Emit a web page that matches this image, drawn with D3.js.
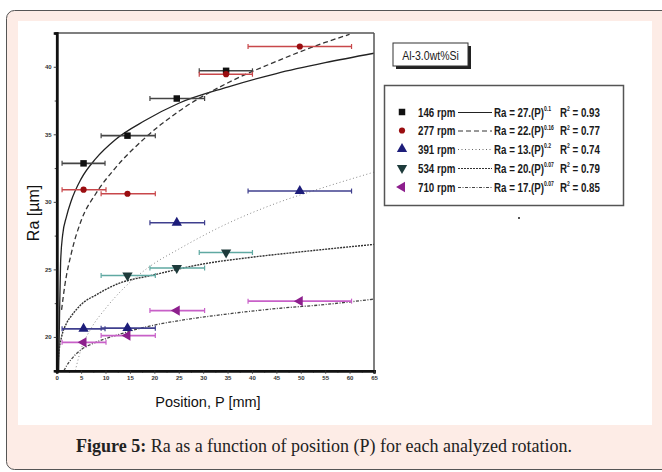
<!DOCTYPE html>
<html>
<head>
<meta charset="utf-8">
<script src="https://cdn.jsdelivr.net/npm/d3@7"></script>
<style>
  body { margin: 0; background: #fff; }
  svg { display: block; }
</style>
</head>
<body>
<script>
// ---- data ----
var seriesNames = ["146 rpm", "277 rpm", "391 rpm", "534 rpm", "710 rpm"];

// measured points: position P, Ra, and left/right ends of the error bar
var p146  = [5.5, 14.5, 24.6, 34.7];
var ra146 = [32.85, 34.9, 37.65, 39.7];
var lo146 = [1.1, 9.1, 19.1, 29.2];
var hi146 = [9.9, 20.2, 30.3, 40.1];

var p277  = [5.5, 14.5, 34.7, 49.8];
var ra277 = [30.9, 30.6, 39.45, 41.5];
var lo277 = [1.1, 9.1, 29.2, 39.2];
var hi277 = [10.1, 20.2, 40.1, 60.4];

var p391  = [5.5, 14.5, 24.6, 49.8];
var ra391 = [20.6, 20.65, 28.45, 30.8];
var lo391 = [1.1, 9.1, 19.1, 39.2];
var hi391 = [9.9, 20.2, 30.3, 60.4];

var p534  = [14.5, 24.6, 34.7];
var ra534 = [24.55, 25.1, 26.25];
var lo534 = [9.1, 19.1, 29.2];
var hi534 = [20.2, 30.3, 40.1];

var p710  = [5.5, 14.5, 24.6, 49.8];
var ra710 = [19.6, 20.1, 21.95, 22.65];
var lo710 = [1.1, 9.1, 19.1, 39.2];
var hi710 = [10.1, 20.2, 30.3, 60.4];

// fitted curves as traced on the picture, [P, Ra]
var fit146 = [[0.4,17.5],[0.6,22],[0.8,25.5],[1.2,27.5],[2,28.9],[3,30.1],[5,31.7],[8,33.2],[12,34.6],[18,36],[25,37.3],[35,38.5],[45,39.5],[55,40.3],[65,41]];
var fit277 = [[1,22],[1.7,23.9],[3,26.2],[5,28.6],[8,30.6],[12,32.5],[18,34.7],[25,36.7],[35,38.8],[45,40.4],[55,41.8],[60,42.4]];
var fit391 = [[3.8,17.5],[5,19.1],[7,20.6],[10,22.1],[14,23.7],[19,25.2],[25,26.5],[35,28.4],[45,29.9],[55,31.1],[65,32.2]];
var fit534 = [[0.2,17.6],[0.5,19],[1,20],[2,21],[3.1,21.6],[5,22.4],[8,23.1],[12.3,23.9],[20,24.6],[30,25.4],[40,25.9],[50,26.3],[65,26.85]];
var fit710 = [[1.5,17.5],[2,17.85],[3,18.35],[5,19.05],[8,19.6],[12,20.1],[19,20.8],[25,21.2],[35,21.7],[45,22.1],[55,22.4],[65,22.8]];

var equations = ["Ra = 27.(P)", "Ra = 22.(P)", "Ra = 13.(P)", "Ra = 20.(P)", "Ra = 17.(P)"];
var exponents = ["0.1", "0.16", "0.2", "0.07", "0.07"];
var r2Values  = ["0.93", "0.77", "0.74", "0.79", "0.85"];

var xTicks = d3.range(0, 66, 5);
var yTicks = [20, 25, 30, 35, 40];

// ---- styles ----
var markerColor = ["#111", "#9a0d10", "#1d1d7a", "#1e3b3b", "#8d1f8d"];
var barColor    = ["#444", "#c8474a", "#3f3f8e", "#5fa9a2", "#c860c8"];
var symbols = [d3.symbolSquare, d3.symbolCircle, d3.symbolTriangle, d3.symbolTriangle, d3.symbolTriangle];
var symSize = [42, 30, 46, 46, 46];
var symRot  = [0, 0, 0, 180, -90];
var lineDash   = [null, "5,3", "1,2.5", "2,1", "3,1.5,1,1.5"];
var lineColor  = ["#222", "#333", "#888", "#333", "#444"];
var lineWidth  = [1.3, 1.3, 1, 1.4, 1.3];

var series = [
  {p: p146, ra: ra146, lo: lo146, hi: hi146, fit: fit146},
  {p: p277, ra: ra277, lo: lo277, hi: hi277, fit: fit277},
  {p: p391, ra: ra391, lo: lo391, hi: hi391, fit: fit391},
  {p: p534, ra: ra534, lo: lo534, hi: hi534, fit: fit534},
  {p: p710, ra: ra710, lo: lo710, hi: hi710, fit: fit710}
];

var W = 662, H = 472;
var svg = d3.select("body").append("svg")
    .attr("width", W)
    .attr("height", H);

// card + white panel
svg.append("rect")
    .attr("x", 6.5).attr("y", 10.5)
    .attr("width", 700).attr("height", 459)
    .attr("rx", 8)
    .attr("fill", "#fdece6")
    .attr("stroke", "#555")
    .attr("stroke-width", 1);
svg.append("rect")
    .attr("x", 18).attr("y", 21)
    .attr("width", 634).attr("height", 404)
    .attr("fill", "#fff");

// scales
var x = d3.scaleLinear().domain([0, 65]).range([56.7, 374]);
var y = d3.scaleLinear().domain([17.5, 42.5]).range([370.7, 33]);

var plot = svg.append("g");

svg.append("clipPath").attr("id", "clip")
  .append("rect")
    .attr("x", x(0)).attr("y", y(42.5))
    .attr("width", x(65) - x(0)).attr("height", y(17.5) - y(42.5));

// fitted curves
var line = d3.line()
    .x(function(d) { return x(d[0]); })
    .y(function(d) { return y(d[1]); })
    .curve(d3.curveMonotoneX);

series.forEach(function(s, i) {
  plot.append("path")
      .datum(s.fit)
      .attr("clip-path", "url(#clip)")
      .attr("fill", "none")
      .attr("stroke", lineColor[i])
      .attr("stroke-width", lineWidth[i])
      .attr("stroke-dasharray", lineDash[i])
      .attr("d", line);
});

// error bars and markers
series.forEach(function(s, i) {
  var g = plot.append("g");
  s.p.forEach(function(pv, k) {
    var yy = y(s.ra[k]);
    g.append("line")
        .attr("x1", x(s.lo[k])).attr("x2", x(s.hi[k]))
        .attr("y1", yy).attr("y2", yy)
        .attr("stroke", barColor[i]).attr("stroke-width", 1.6);
    [s.lo[k], s.hi[k]].forEach(function(e) {
      g.append("line")
          .attr("x1", x(e)).attr("x2", x(e))
          .attr("y1", yy - 2.5).attr("y2", yy + 2.5)
          .attr("stroke", barColor[i]).attr("stroke-width", 1.2);
    });
    g.append("path")
        .attr("d", d3.symbol().type(symbols[i]).size(symSize[i])())
        .attr("transform", "translate(" + x(pv) + "," + yy + ") rotate(" + symRot[i] + ")")
        .attr("fill", markerColor[i]);
  });
});

// frame
plot.append("line")
    .attr("x1", x(0)).attr("x2", x(65)).attr("y1", y(42.5)).attr("y2", y(42.5))
    .attr("stroke", "#555").attr("stroke-width", 1.5);
plot.append("line")
    .attr("x1", x(65)).attr("x2", x(65)).attr("y1", y(42.5)).attr("y2", y(17.5))
    .attr("stroke", "#555").attr("stroke-width", 1.5);

// axes
var xMinor = svg.append("g")
    .attr("transform", "translate(0," + y(17.5) + ")")
    .call(d3.axisBottom(x).tickValues(d3.range(2.5, 65, 5)).tickSize(2).tickFormat(""));
var xAxis = svg.append("g")
    .attr("transform", "translate(0," + y(17.5) + ")")
    .call(d3.axisBottom(x).tickValues(xTicks).tickSize(3).tickPadding(2));
var yMinor = svg.append("g")
    .attr("transform", "translate(" + x(0) + ",0)")
    .call(d3.axisLeft(y).tickValues([22.5, 27.5, 32.5, 37.5]).tickSize(2).tickFormat(""));
var yAxis = svg.append("g")
    .attr("transform", "translate(" + x(0) + ",0)")
    .call(d3.axisLeft(y).tickValues(yTicks).tickSize(3).tickPadding(2));

[xMinor, xAxis, yMinor, yAxis].forEach(function(a) {
  a.select(".domain").attr("stroke", "#111").attr("stroke-width", 2.5);
  a.selectAll(".tick line").attr("stroke", "#333").attr("stroke-width", 0.9);
  a.selectAll("text")
      .attr("font-family", "Liberation Sans, Arial, sans-serif")
      .attr("font-size", 6)
      .attr("font-weight", "bold")
      .attr("fill", "#333");
});

// axis titles
svg.append("text")
    .attr("transform", "translate(39,213) rotate(-90)")
    .attr("text-anchor", "middle")
    .attr("font-family", "Liberation Sans, Arial, sans-serif")
    .attr("font-size", 16)
    .attr("fill", "#111")
    .text("Ra  [\u00b5m]");
svg.append("text")
    .attr("x", 208).attr("y", 407)
    .attr("text-anchor", "middle")
    .attr("font-family", "Liberation Sans, Arial, sans-serif")
    .attr("font-size", 14.5)
    .attr("fill", "#111")
    .text("Position, P  [mm]");

// condensed text helper (the figure uses a narrow face)
var legFont = "Liberation Sans, Arial, sans-serif";
function narrowText(parent, tx, ty, size) {
  return parent.append("text")
      .attr("transform", "translate(" + tx + "," + ty + ") scale(0.78,1)")
      .attr("font-family", legFont)
      .attr("font-size", size)
      .attr("font-weight", "bold")
      .attr("fill", "#1a1a1a");
}

// alloy label box with shadow
svg.append("rect")
    .attr("x", 396).attr("y", 46).attr("width", 75).attr("height", 23)
    .attr("fill", "#222");
svg.append("rect")
    .attr("x", 393).attr("y", 43).attr("width", 75).attr("height", 23)
    .attr("fill", "#fff").attr("stroke", "#333").attr("stroke-width", 1);
narrowText(svg, 430.5, 59.5, 13.5)
    .attr("text-anchor", "middle")
    .attr("font-weight", "normal")
    .text("Al-3.0wt%Si");

// legend
svg.append("rect")
    .attr("x", 384.5).attr("y", 85.5).attr("width", 239).attr("height", 120)
    .attr("fill", "#fff").attr("stroke", "#555").attr("stroke-width", 1.5);

var rowY = [112, 130.5, 149, 168, 187];
seriesNames.forEach(function(name, i) {
  var ry = rowY[i];
  var g = svg.append("g");
  g.append("path")
      .attr("d", d3.symbol().type(symbols[i]).size(symSize[i])())
      .attr("transform", "translate(402," + ry + ") rotate(" + symRot[i] + ")")
      .attr("fill", markerColor[i]);
  narrowText(g, 418, ry + 4.5, 12.5).text(name);
  g.append("line")
      .attr("x1", 458).attr("x2", 492)
      .attr("y1", ry + 0.5).attr("y2", ry + 0.5)
      .attr("stroke", lineColor[i] === "#888" ? "#666" : lineColor[i])
      .attr("stroke-width", 1)
      .attr("stroke-dasharray", lineDash[i]);
  var eq = narrowText(g, 494, ry + 4.5, 12.5);
  eq.append("tspan").text(equations[i]);
  eq.append("tspan").attr("font-size", 6.5).attr("dy", -5.5).text(exponents[i]);
  var r2 = narrowText(g, 560, ry + 4.5, 12.5);
  r2.append("tspan").text("R");
  r2.append("tspan").attr("font-size", 6.5).attr("dy", -5.5).text("2");
  r2.append("tspan").attr("dy", 5.5).text(" = " + r2Values[i]);
});

// stray speck on the original scan
svg.append("rect")
    .attr("x", 518).attr("y", 217).attr("width", 2).attr("height", 2)
    .attr("fill", "#555");

// caption
var cap = svg.append("text")
    .attr("x", 324).attr("y", 452)
    .attr("text-anchor", "middle")
    .attr("font-family", "Liberation Serif, Times New Roman, serif")
    .attr("font-size", 18)
    .attr("fill", "#222");
cap.append("tspan").attr("font-weight", "bold").text("Figure 5:");
cap.append("tspan").text(" Ra as a function of position (P) for each analyzed rotation.");
</script>
</body>
</html>
